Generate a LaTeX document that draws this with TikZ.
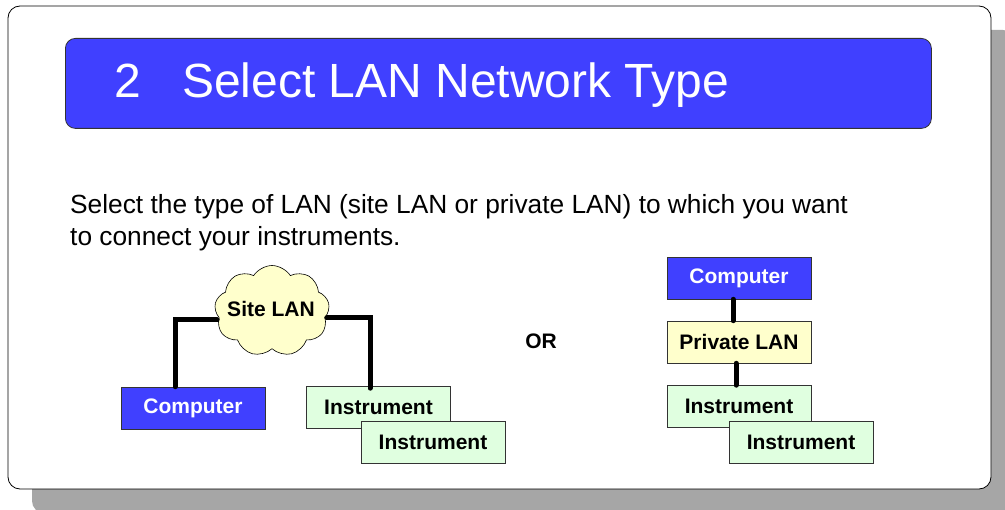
\documentclass[tikz,border=0pt]{standalone}
\usepackage{fontspec}
\setmainfont{Liberation Sans}
\usetikzlibrary{shapes.symbols}
\definecolor{titleblue}{HTML}{4040FF}
\definecolor{lanyellow}{HTML}{FFFFCC}
\definecolor{instgreen}{HTML}{E0FFE0}
\tikzset{
  box/.style={draw=black!80, line width=0.6pt, minimum width=144pt, minimum height=42pt, inner sep=0pt, font=\fontsize{21}{24}\selectfont\bfseries},
  compbox/.style={box, fill=titleblue, text=white},
  instbox/.style={box, fill=instgreen},
  lanbox/.style={box, fill=lanyellow},
  wire/.style={line width=5pt, line cap=round},
}
\begin{document}
\begin{tikzpicture}[x=1pt,y=-1pt]
\useasboundingbox (0,0) rectangle (1005,510);
\begin{scope}
\clip (0,0) rectangle (1005,510);
\fill[black!35, rounded corners=12pt] (32,30) rectangle (1015,513);
\end{scope}
\draw[fill=white, line width=0.8pt, rounded corners=12pt] (8,6) rectangle (991,489);
\node[draw=black!80, line width=0.8pt, fill=titleblue, rounded corners=10pt, minimum width=866pt, minimum height=90pt, anchor=north west, inner sep=0pt] (title) at (65,38) {};
\node[anchor=base west, text=white, font=\fontsize{48}{50}\selectfont, inner sep=0pt] (num) at (114,98) {2};
\node[anchor=base west, text=white, font=\fontsize{48}{50}\selectfont, inner sep=0pt] (ttl) at (182,98) {Select LAN Network Type};
\node[anchor=base west, font=\fontsize{26.3}{32}\selectfont, inner sep=0pt] (l1) at (70,214) {Select the type of LAN (site LAN or private LAN) to which you want};
\node[anchor=base west, font=\fontsize{26.3}{32}\selectfont, inner sep=0pt] (l2) at (70,246) {to connect your instruments.};
% left diagram
\node[cloud, cloud puffs=9, cloud puff arc=115, aspect=1.25, draw=black, line width=0.6pt, fill=lanyellow, minimum width=115pt, minimum height=91pt, inner sep=0pt] (site) at (272,311) {};
\node[font=\fontsize{21}{24}\selectfont\bfseries, inner sep=0pt] (sitetext) at (271,309) {Site LAN};
\node[compbox] (c1) at (193,408) {Computer};
\node[instbox] (i1) at (378.5,407.5) {Instrument};
\node[instbox] (i2) at (433,442.5) {Instrument};
\coordinate (k1) at (175,320);
\coordinate (k2) at (370,318);
\draw[wire] (c1.north -| k1) -- (k1) -- ([xshift=2pt]k1 -| site.west);
\draw[wire] ([xshift=-2pt]k2 -| site.east) -- (k2) -- ([yshift=-2pt]i1.north -| k2);
\node[font=\fontsize{21}{24}\selectfont\bfseries] (or) at (541,341) {OR};
% right diagram
\node[compbox] (c2) at (739,278) {Computer};
\node[lanbox] (pl) at (739,342) {Private LAN};
\node[instbox] (i3) at (739,406.5) {Instrument};
\node[instbox] (i4) at (801,442.5) {Instrument};
\draw[wire] ([xshift=-6pt]c2.south) -- ([xshift=-6pt]pl.north);
\draw[wire] ([xshift=-3pt]pl.south) -- ([xshift=-3pt]i3.north);
\end{tikzpicture}
\end{document}
